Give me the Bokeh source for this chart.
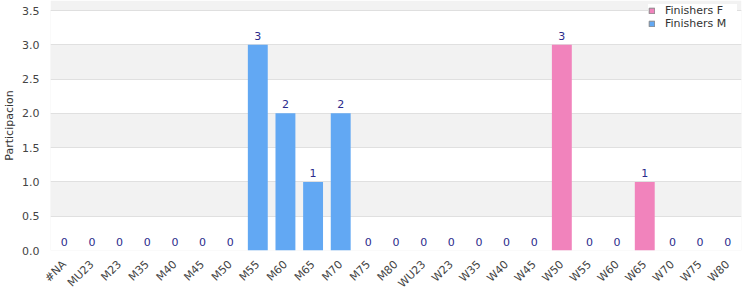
import math
from bokeh.plotting import figure
from bokeh.models import (ColumnDataSource, Legend, LegendItem, FactorRange,
                          SingleIntervalTicker, NumeralTickFormatter, BoxAnnotation)
from bokeh.core.properties import value
from bokeh.embed import file_html
from bokeh.resources import INLINE

categories = ["#NA", "MU23", "M23", "M35", "M40", "M45", "M50", "M55", "M60", "M65",
              "M70", "M75", "M80", "WU23", "W23", "W35", "W40", "W45", "W50", "W55",
              "W60", "W65", "W70", "W75", "W80"]
finishers_m = [0, 0, 0, 0, 0, 0, 0, 3, 2, 1, 2, 0, 0, 0, 0, 0, 0, 0, 0, 0, 0, 0, 0, 0, 0]
finishers_f = [0, 0, 0, 0, 0, 0, 0, 0, 0, 0, 0, 0, 0, 0, 0, 0, 0, 0, 3, 0, 0, 1, 0, 0, 0]
y_max = 3.5

BLUE = "#62a8f3"
PINK = "#f183bc"
FONT = "DejaVu Sans"

totals = [m + f for m, f in zip(finishers_m, finishers_f)]
src_m = ColumnDataSource(dict(cat=categories, v=finishers_m))
src_f = ColumnDataSource(dict(cat=categories, v=finishers_f))
src_lab = ColumnDataSource(dict(cat=categories, v=totals, t=[str(t) for t in totals]))

# frame spans the full top so the legend may sit above the plot box; the box itself ends at y_max
frame_h = 250
box_h = 240
p = figure(x_range=FactorRange(*categories, range_padding=0),
           y_range=(0, y_max * frame_h / box_h),
           width=750, height=300, output_backend="svg", toolbar_location=None,
           min_border_left=0, min_border_right=9, min_border_top=0, min_border_bottom=50)
p.background_fill_color = "white"
p.border_fill_color = "white"
p.outline_line_color = None

p.xgrid.grid_line_color = None
p.ygrid.grid_line_color = "#e0e0e0"
p.ygrid.band_fill_color = "#f2f2f2"
p.ygrid.band_fill_alpha = 1.0
p.yaxis.ticker = SingleIntervalTicker(interval=0.5)
p.yaxis.formatter = NumeralTickFormatter(format="0.0")

p.add_layout(BoxAnnotation(bottom=0, top=y_max, fill_alpha=0, fill_color=None,
                           line_color="#dddddd", line_width=1, level="underlay"))

p.vbar(x="cat", top="v", width=0.72, source=src_m, fill_color=BLUE, line_color=None)
p.vbar(x="cat", top="v", width=0.72, source=src_f, fill_color=PINK, line_color=None)

p.text(x="cat", y="v", text="t", source=src_lab, text_align="center", text_baseline="bottom",
       y_offset=-5, text_font=value(FONT), text_font_size="11px", text_color="#2b2b8c")

for ax in (p.xaxis, p.yaxis):
    ax.axis_line_color = None
    ax.major_tick_line_color = None
    ax.minor_tick_line_color = None
    ax.major_label_text_font = FONT
    ax.major_label_text_font_size = "11px"
    ax.major_label_text_color = "#444444"

p.xaxis.major_label_orientation = math.pi / 4
p.xaxis.major_label_standoff = 6
p.yaxis.major_label_standoff = 5
p.yaxis.axis_label = "Participacion"
p.yaxis.axis_label_text_font = FONT
p.yaxis.axis_label_text_font_size = "11px"
p.yaxis.axis_label_text_font_style = "normal"
p.yaxis.axis_label_text_color = "#333333"
p.yaxis.axis_label_standoff = 3

dummy_f = p.vbar(x=[categories[0]], top=[0], width=0.0, fill_color=PINK, line_color="#888888")
dummy_m = p.vbar(x=[categories[0]], top=[0], width=0.0, fill_color=BLUE, line_color="#888888")
legend = Legend(items=[LegendItem(label="Finishers F", renderers=[dummy_f]),
                       LegendItem(label="Finishers M", renderers=[dummy_m])],
                location=(598, 220), orientation="vertical",
                label_text_font=FONT, label_text_font_size="11px", label_text_color="#333333",
                label_text_line_height=1.0,
                glyph_width=7, glyph_height=7, spacing=0, padding=2, margin=0,
                label_height=13, label_width=72, label_standoff=10,
                background_fill_color="white", background_fill_alpha=1.0,
                border_line_color=None)
p.add_layout(legend, "center")

open("out.html", "w").write(file_html(p, INLINE))
